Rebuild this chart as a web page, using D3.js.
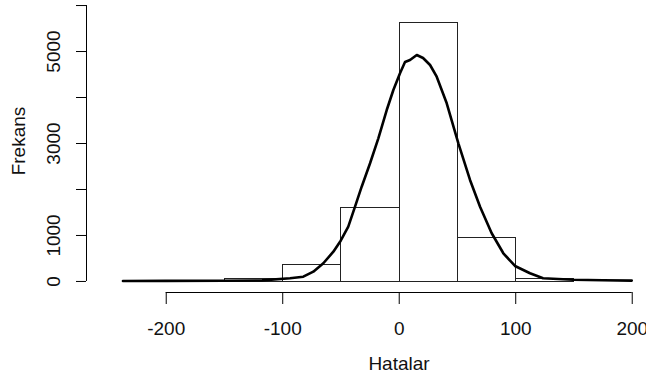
<!DOCTYPE html>
<html>
<head>
<meta charset="utf-8">
<script src="https://cdn.jsdelivr.net/npm/d3@7"></script>
<style>
  html, body { margin: 0; padding: 0; background: #fff; }
  svg { display: block; }
  text { font-family: "Liberation Sans", Arial, sans-serif; fill: #111; }
</style>
</head>
<body>
<svg id="chart" width="646" height="378"></svg>
<script>
// Histogram of errors (bin width 50)
const binStarts = [-250, -200, -150, -100, -50, 0, 50, 100, 150];
const binWidth = 50;
const binCounts = [2, 3, 62, 365, 1610, 5640, 965, 65, 2];

// Scaled density estimate drawn over the histogram
const curveX = [-236.7, -200, -150, -117.3, -93.3, -81.9, -73.3, -64.7, -56.1, -49.8, -43.3, -37.5, -31.8, -24.6, -17.5, -10.3, -4.6, 1.1, 5.4, 9.7, 15.5, 20.9, 26.9, 32.6, 41.2, 51.2, 61.2, 69.8, 79.8, 89.8, 99.8, 112.7, 123.9, 149.6, 175, 200];
const curveY = [0, 2, 6, 12, 59, 93, 202, 385, 637, 876, 1180, 1615, 2050, 2559, 3102, 3717, 4152, 4515, 4760, 4804, 4913, 4848, 4696, 4441, 3863, 2993, 2196, 1615, 1037, 602, 326, 167, 60, 28, 15, 8];

const xTicks = [-200, -100, 0, 100, 200];
const yTicks = [0, 1000, 2000, 3000, 4000, 5000, 6000];
const yTickLabels = ["0", "1000", "", "3000", "", "5000", ""];

const xLabel = "Hatalar";
const yLabel = "Frekans";

const svg = d3.select("#chart");

const x = d3.scaleLinear().domain([-268, 218]).range([86.5, 652.7]);
const y = d3.scaleLinear().domain([-240, 6240]).range([292, -6]);

const fontSize = 19;

// Bars
svg.append("g")
  .selectAll("rect")
  .data(binStarts.map((s, i) => ({ s, c: binCounts[i] })))
  .join("rect")
  .attr("x", d => Math.round(x(d.s)) + 0.5)
  .attr("y", d => Math.round(y(d.c)) + 0.5)
  .attr("width", d => Math.round(x(d.s + binWidth)) - Math.round(x(d.s)))
  .attr("height", d => Math.round(y(0)) - Math.round(y(d.c)))
  .attr("fill", "none")
  .attr("stroke", "#222")
  .attr("stroke-width", 1);

// Density curve
const line = d3.line()
  .x((d, i) => x(curveX[i]))
  .y((d, i) => y(curveY[i]));

svg.append("path")
  .attr("d", line(curveX))
  .attr("fill", "none")
  .attr("stroke", "#000")
  .attr("stroke-width", 2.6)
  .attr("stroke-linejoin", "round")
  .attr("stroke-linecap", "round");

// X axis
const xAxisY = 292;
const gx = svg.append("g").attr("transform", `translate(0,${xAxisY})`);
gx.call(d3.axisBottom(x).tickValues(xTicks).tickSize(12).tickSizeOuter(0));
gx.select(".domain")
  .attr("d", `M${x(xTicks[0])},0.5H${x(xTicks[xTicks.length - 1])}`)
  .attr("stroke", "#000");
gx.selectAll(".tick line").attr("stroke", "#000");
gx.selectAll(".tick text")
  .attr("y", 0)
  .attr("dy", 0)
  .attr("transform", "translate(0,43)")
  .style("font-size", fontSize + "px")
  .style("font-family", "'Liberation Sans', Arial, sans-serif")
  .text(d => d3.format("d")(d).replace("\u2212", "-"));

// Y axis
const yAxisX = 86;
const gy = svg.append("g").attr("transform", `translate(${yAxisX},0)`);
gy.call(d3.axisLeft(y).tickValues(yTicks).tickSize(10).tickSizeOuter(0)
  .tickFormat((d, i) => yTickLabels[i]));
gy.select(".domain")
  .attr("d", `M0.5,${y(yTicks[0])}V${y(yTicks[yTicks.length - 1])}`)
  .attr("stroke", "#000");
gy.selectAll(".tick line").attr("stroke", "#000");
gy.selectAll(".tick text")
  .attr("x", 0)
  .attr("dy", 0)
  .attr("text-anchor", "middle")
  .attr("transform", "translate(-26,0) rotate(-90)")
  .style("font-size", fontSize + "px")
  .style("font-family", "'Liberation Sans', Arial, sans-serif");

// Axis titles
svg.append("text")
  .attr("x", 399)
  .attr("y", 370)
  .attr("text-anchor", "middle")
  .style("font-size", fontSize + "px")
  .text(xLabel);

svg.append("text")
  .attr("transform", "translate(25,141) rotate(-90)")
  .attr("text-anchor", "middle")
  .style("font-size", fontSize + "px")
  .text(yLabel);
</script>
</body>
</html>
